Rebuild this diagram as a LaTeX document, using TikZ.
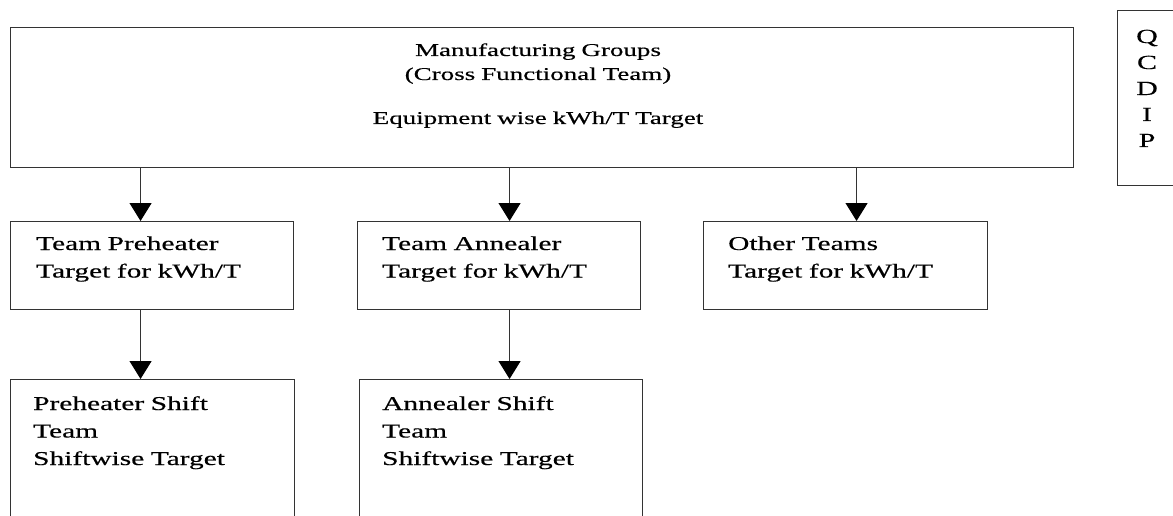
\documentclass[tikz,border=0pt]{standalone}
\usepackage{fontspec}
\setmainfont[FakeStretch=1.5,FakeBold=0.4]{Liberation Serif}
\usetikzlibrary{arrows.meta}

\tikzset{
  box/.style={draw=black!80, line width=1.1pt, inner sep=0pt, anchor=north west},
  txt/.style={inner sep=0pt, anchor=base west, text width=260pt, align=left,
    font=\fontsize{19.6}{27.5}\selectfont},
  toptxt/.style={inner sep=0pt, anchor=base, text width=600pt, align=center,
    font=\fontsize{18}{24}\selectfont},
  link/.style={draw=black!80, line width=1.1pt,
    -{Triangle[width=22pt,length=18pt,fill=black,color=black]}}
}

\begin{document}
\begin{tikzpicture}[x=1pt,y=-1pt]
\useasboundingbox (0,0) rectangle (1173,516);
% boxes
\node[box, minimum width=1063pt, minimum height=140pt] (mfg) at (10,27) {};
\node[box, minimum width=100pt, minimum height=175pt] (qcdip) at (1117,10) {};
\node[box, minimum width=283pt, minimum height=88pt] (pre) at (10,221) {};
\node[box, minimum width=283pt, minimum height=88pt] (ann) at (357,221) {};
\node[box, minimum width=284pt, minimum height=88pt] (oth) at (703,221) {};
\node[box, minimum width=284pt, minimum height=160pt] (preS) at (10,379) {};
\node[box, minimum width=283pt, minimum height=160pt] (annS) at (359,379) {};
% texts
\node[toptxt] (mfgT) at (538,56) {Manufacturing Groups\\(Cross Functional Team)\\[20pt]Equipment wise kWh/T Target};
\node[inner sep=0pt, anchor=base, text width=30pt, align=center,
  font=\fontsize{20}{26}\selectfont] (qcdipT) at (1147,43) {Q\\C\\D\\I\\P};
\node[txt] (preT) at (36,250) {Team Preheater\\Target for kWh/T};
\node[txt] (annT) at (382,250) {Team Annealer\\Target for kWh/T};
\node[txt] (othT) at (728,250) {Other Teams\\Target for kWh/T};
\node[txt] (preST) at (33,410) {Preheater Shift\\Team\\Shiftwise Target};
\node[txt] (annST) at (382,410) {Annealer Shift\\Team\\Shiftwise Target};
% arrows
\coordinate (a1) at ([xshift=-11.5pt]pre.north);
\coordinate (a2) at ([xshift=10.5pt]ann.north);
\coordinate (a3) at ([xshift=11pt]oth.north);
\draw[link] (mfg.south -| a1) -- (a1);
\draw[link] (mfg.south -| a2) -- (a2);
\draw[link] (mfg.south -| a3) -- (a3);
\draw[link] (pre.south -| a1) -- (preS.north -| a1);
\draw[link] (ann.south -| a2) -- (annS.north -| a2);
\end{tikzpicture}
\end{document}
